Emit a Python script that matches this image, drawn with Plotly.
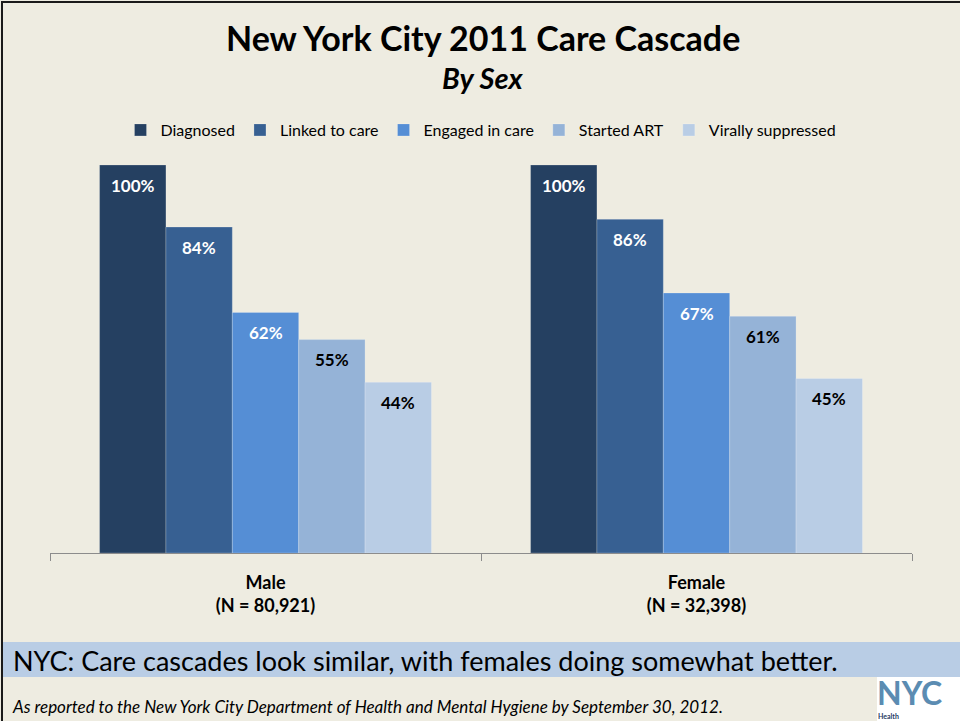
import plotly.graph_objects as go

# Care cascade data (percent of diagnosed)
groups = ["Male", "Female"]
group_n = ["(N = 80,921)", "(N = 32,398)"]
stages = ["Diagnosed", "Linked to care", "Engaged in care", "Started ART", "Virally suppressed"]
values = {
    "Diagnosed": [100, 100],
    "Linked to care": [84, 86],
    "Engaged in care": [62, 67],
    "Started ART": [55, 61],
    "Virally suppressed": [44, 45],
}
colors = ["#254061", "#376092", "#558ED5", "#95B3D7", "#B9CDE5"]
label_colors = ["white", "white", "white", "black", "black"]

W, H = 960, 721
ML, MR, MT, MB = 50, 48, 165, 168
PW, PH = W - ML - MR, H - MT - MB
FONT = "Lato"


def px_x(x):
    return (x - ML) / PW


def px_y(y):
    return (H - MB - y) / PH


tick_text = [f"<b>{g}</b><br><b>{n}</b>" for g, n in zip(groups, group_n)]

fig = go.Figure()
for stage, col in zip(stages, colors):
    fig.add_trace(go.Bar(
        name=stage,
        x=tick_text,
        y=values[stage],
        marker=dict(color=col, line=dict(width=0.6, color="rgba(255,255,255,0.35)")),
        hoverinfo="skip",
    ))

# value labels inside the top of each bar
n_st = len(stages)
bargap = 0.23
for i, (stage, lc) in enumerate(zip(stages, label_colors)):
    for j, v in enumerate(values[stage]):
        xoff = -(1 - bargap) / 2 + (1 - bargap) / n_st * (i + 0.5)
        fig.add_annotation(
            x=j + xoff, y=v, xref="x", yref="y",
            text=f"<b>{v}%</b>", showarrow=False, yshift=-20,
            font=dict(family=FONT, size=17, color=lc),
        )

fig.update_layout(
    width=W, height=H,
    margin=dict(l=ML, r=MR, t=MT, b=MB),
    paper_bgcolor="#EEECE1",
    plot_bgcolor="#EEECE1",
    barmode="group",
    bargap=bargap,
    bargroupgap=0,
    font=dict(family=FONT, size=16, color="black"),
    showlegend=True,
    legend=dict(
        orientation="h", x=0.5, xanchor="center", y=px_y(130), yanchor="middle",
        font=dict(family=FONT, size=16), bgcolor="rgba(0,0,0,0)",
        itemwidth=30, tracegroupgap=0,
    ),
    xaxis=dict(
        type="category",
        showline=True, linecolor="#8c8c8c", linewidth=1,
        ticks="outside", tickson="boundaries", ticklen=7, tickcolor="#8c8c8c",
        ticklabelstandoff=13,
        tickfont=dict(family=FONT, size=18, color="black"),
        showgrid=False, zeroline=False,
    ),
    yaxis=dict(range=[0, 100], visible=False, showgrid=False, zeroline=False),
)

# slide title and subtitle
fig.add_annotation(
    x=px_x(483), y=px_y(37), xref="paper", yref="paper",
    text="<b>New York City 2011 Care Cascade</b>", showarrow=False,
    font=dict(family=FONT, size=34, color="black"), yanchor="middle",
)
fig.add_annotation(
    x=px_x(483), y=px_y(78), xref="paper", yref="paper",
    text="<b><i>By Sex</i></b>", showarrow=False,
    font=dict(family=FONT, size=29, color="black"), yanchor="middle",
)

# takeaway band
fig.add_shape(
    type="rect", xref="paper", yref="paper", layer="below",
    x0=px_x(2), x1=px_x(960), y0=px_y(642), y1=px_y(677),
    fillcolor="#B9CDE5", line=dict(width=0),
)
fig.add_annotation(
    x=px_x(11), y=px_y(660), xref="paper", yref="paper", xanchor="left", yanchor="middle",
    text="NYC: Care cascades look similar, with females doing somewhat better.",
    showarrow=False, font=dict(family=FONT, size=27, color="black"),
)

# source note
fig.add_annotation(
    x=px_x(10), y=px_y(706), xref="paper", yref="paper", xanchor="left", yanchor="middle",
    text="<i>As reported to the New York City Department of Health and Mental Hygiene by September 30, 2012.</i>",
    showarrow=False, font=dict(family=FONT, size=17, color="black"),
)

# logo block
fig.add_shape(
    type="rect", xref="paper", yref="paper",
    x0=px_x(877), x1=px_x(960), y0=px_y(677), y1=px_y(721),
    fillcolor="white", line=dict(width=0),
)
fig.add_annotation(
    x=px_x(875), y=px_y(692), xref="paper", yref="paper", xanchor="left", yanchor="middle",
    text="<b>NYC</b>", showarrow=False,
    font=dict(family=FONT, size=32, color="#5B8CB2"),
)
fig.add_annotation(
    x=px_x(876), y=px_y(716), xref="paper", yref="paper", xanchor="left", yanchor="middle",
    text="<b>Health</b>", showarrow=False,
    font=dict(family=FONT, size=7, color="#1F3A5F"),
)

# slide frame
fig.add_shape(
    type="rect", xref="paper", yref="paper",
    x0=px_x(2), x1=px_x(962), y0=px_y(2), y1=px_y(724),
    fillcolor="rgba(0,0,0,0)", line=dict(width=2, color="#1a1a1a"),
)

fig.write_html("out.html")
